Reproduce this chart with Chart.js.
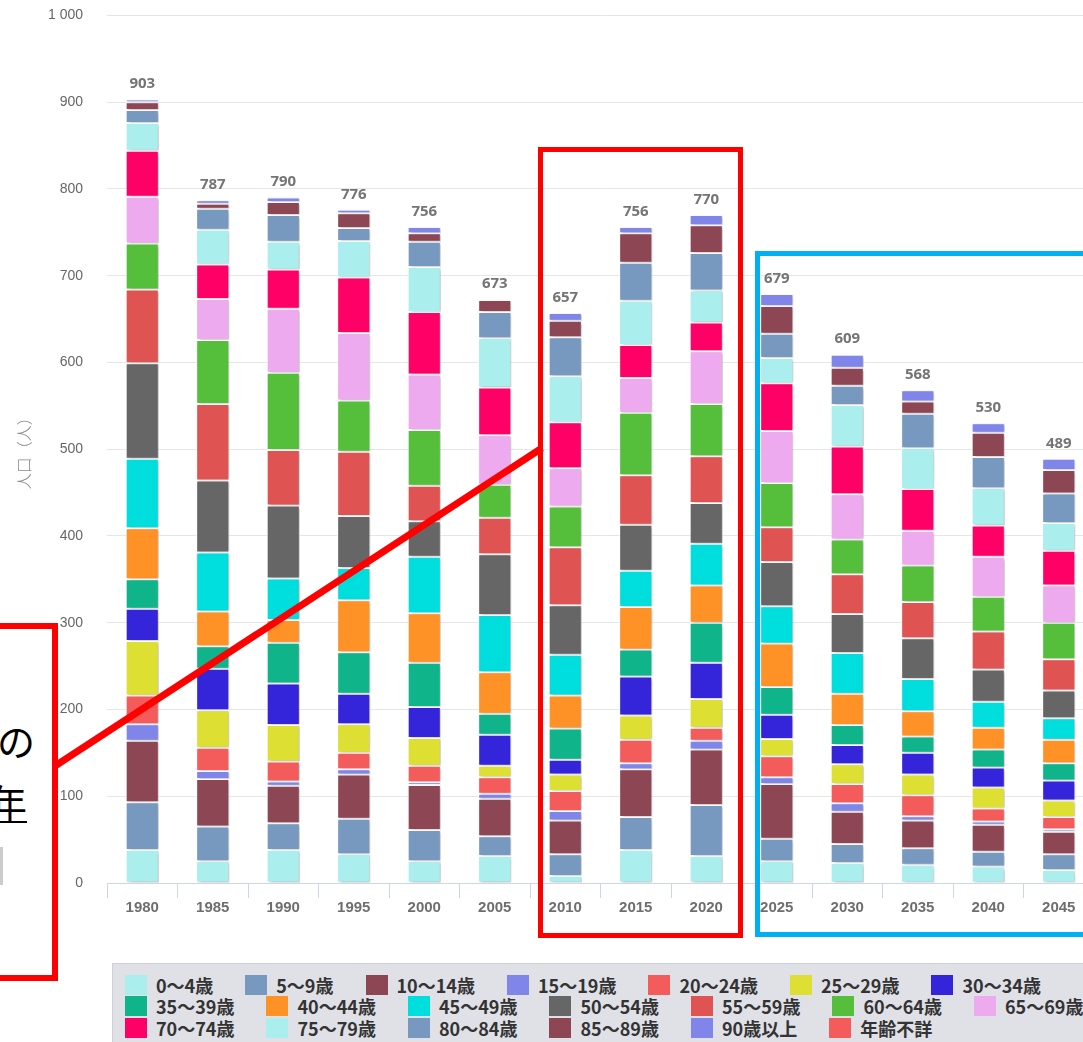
<!DOCTYPE html>
<html lang="ja">
<head>
<meta charset="utf-8">
<title>年齢別人口の推移</title>
<script src="https://cdn.jsdelivr.net/npm/chart.js@4.4.1/dist/chart.umd.min.js"></script>
<style>
  html, body { margin: 0; padding: 0; background: #fff; }
  body { width: 1083px; height: 1042px; overflow: hidden; position: relative; font-family: "Noto Sans", "Noto Sans CJK JP", sans-serif; }
  #wrap { position: absolute; left: 0; top: -17px; width: 1094px; height: 967px; }
  #legend { position: absolute; left: 112px; top: 963px; width: 1150px; height: 90px; background: #e0e1e7; border: 1px solid #cdd0d8; box-sizing: border-box; padding: 10px 0 0 12px; }
  .row { display: flex; height: 21.5px; }
  .item { display: flex; align-items: center; margin-right: 32px; }
  .sw { width: 22px; height: 20px; margin-right: 9px; flex: none; }
  .lbl { font-weight: bold; font-size: 18px; font-family: "Noto Sans CJK JP", sans-serif; color: #333; line-height: 20px; white-space: nowrap; }
  .box { position: absolute; box-sizing: border-box; }
  .note { position: absolute; font-family: "Noto Sans CJK JP", sans-serif; font-size: 38px; color: #000; line-height: 40px; }
</style>
</head>
<body>
<div id="wrap"><canvas id="chart" width="1094" height="967"></canvas></div>
<div id="legend"></div>

<!-- 注釈 -->
<div class="box" style="left:538px;top:147px;width:205px;height:791px;border:5px solid #ff0000;"></div>
<div class="box" style="left:755px;top:251px;width:400px;height:686px;border:5px solid #00b0f0;"></div>
<div class="box" style="left:-10px;top:623px;width:68px;height:358px;border:6px solid #ff0000;background:#fff;"></div>
<div class="note" style="left:-3px;top:720px;">の</div>
<div class="note" style="left:-11px;top:781px;border-bottom:2px solid #000;">年</div>
<div class="box" style="left:0;top:847px;width:3px;height:38px;background:#cccccc;"></div>
<svg style="position:absolute;left:0;top:0" width="1083" height="1042">
  <line x1="55" y1="766" x2="542" y2="448" stroke="#ff0000" stroke-width="7"/>
</svg>

<script>
// 年
const years = ["1980", "1985", "1990", "1995", "2000", "2005", "2010", "2015", "2020", "2025", "2030", "2035", "2040", "2045"];

// 年齢階級
const ageGroups = ["0～4歳", "5～9歳", "10～14歳", "15～19歳", "20～24歳", "25～29歳", "30～34歳",
  "35～39歳", "40～44歳", "45～49歳", "50～54歳", "55～59歳", "60～64歳", "65～69歳",
  "70～74歳", "75～79歳", "80～84歳", "85～89歳", "90歳以上", "年齢不詳"];

// 人口（人）
const age0_4    = [38, 25, 38, 33, 25, 31, 8, 38, 31, 25, 23, 21, 19, 15];
const age5_9    = [55, 40, 31, 41, 36, 23, 25, 38, 59, 26, 22, 19, 17, 18];
const age10_14  = [71, 55, 43, 51, 52, 43, 39, 55, 64, 63, 37, 32, 31, 26];
const age15_19  = [19, 9, 5, 6, 3, 6, 11, 7, 10, 8, 10, 5, 4, 3];
const age20_24  = [33, 27, 23, 19, 19, 19, 23, 27, 15, 24, 22, 24, 15, 14];
const age25_29  = [63, 43, 42, 33, 32, 13, 19, 28, 33, 20, 23, 24, 24, 19];
const age30_34  = [37, 48, 48, 35, 36, 36, 17, 45, 42, 28, 22, 25, 23, 23];
const age35_39  = [34, 26, 47, 48, 51, 24, 36, 31, 46, 32, 23, 19, 21, 20];
const age40_44  = [59, 40, 26, 60, 57, 48, 38, 49, 43, 50, 36, 29, 25, 27];
const age45_49  = [80, 68, 48, 37, 65, 66, 47, 42, 48, 43, 47, 37, 30, 25];
const age50_54  = [110, 83, 84, 60, 41, 70, 57, 53, 47, 51, 45, 47, 37, 32];
const age55_59  = [85, 88, 64, 74, 41, 42, 67, 57, 54, 40, 46, 42, 44, 36];
const age60_64  = [53, 74, 89, 59, 64, 38, 47, 72, 60, 51, 40, 42, 40, 42];
const age65_69  = [54, 47, 74, 78, 64, 57, 44, 40, 61, 60, 52, 40, 46, 43];
const age70_74  = [53, 40, 45, 64, 72, 55, 53, 38, 33, 55, 55, 48, 36, 40];
const age75_79  = [32, 40, 32, 42, 52, 57, 53, 51, 37, 29, 48, 47, 43, 32];
const age80_84  = [15, 24, 31, 15, 29, 30, 45, 44, 43, 28, 22, 40, 36, 34];
const age85_89  = [9, 6, 15, 17, 10, 14, 19, 34, 32, 32, 21, 14, 28, 27];
const age90plus = [3, 4, 5, 4, 7, 1, 9, 7, 12, 14, 15, 13, 11, 13];
const ageUnknown = [0, 0, 0, 0, 0, 0, 0, 0, 0, 0, 0, 0, 0, 0];

const seriesValues = [age0_4, age5_9, age10_14, age15_19, age20_24, age25_29, age30_34,
  age35_39, age40_44, age45_49, age50_54, age55_59, age60_64, age65_69,
  age70_74, age75_79, age80_84, age85_89, age90plus, ageUnknown];

const seriesColors = ["#aaeeee", "#7798bf", "#8d4654", "#8085e9", "#f45b5b", "#dddf33", "#3525da",
  "#0fb48b", "#ff9226", "#00dddd", "#666666", "#df5353", "#55bf3b", "#eeaaee",
  "#ff0066", "#aaeeee", "#7798bf", "#8d4654", "#8085e9", "#f45b5b"];

// 棒の影
const shadowPlugin = {
  id: "barShadow",
  beforeDatasetsDraw(chart) {
    const ctx = chart.ctx;
    ctx.save();
    ctx.shadowColor = "rgba(0,0,0,0.28)";
    ctx.shadowOffsetX = 2;
    ctx.shadowOffsetY = 1;
    ctx.shadowBlur = 3;
  },
  afterDatasetsDraw(chart) {
    chart.ctx.restore();
  }
};

// 合計ラベル
const totalPlugin = {
  id: "totals",
  afterDraw(chart) {
    const ctx = chart.ctx;
    const xs = chart.scales.x, ys = chart.scales.y;
    ctx.save();
    ctx.font = 'bold 15px "Noto Sans", sans-serif';
    ctx.fillStyle = "#757575";
    ctx.textAlign = "center";
    ctx.textBaseline = "bottom";
    years.forEach((y, i) => {
      const total = seriesValues.reduce((s, arr) => s + arr[i], 0);
      ctx.fillText(String(total), xs.getPixelForValue(i), ys.getPixelForValue(total) - 8);
    });
    ctx.restore();
  }
};

const ctx = document.getElementById("chart").getContext("2d");
const chart = new Chart(ctx, {
  type: "bar",
  data: {
    labels: years,
    datasets: ageGroups.map((name, i) => ({
      label: name,
      data: seriesValues[i],
      backgroundColor: seriesColors[i],
      borderColor: "#ffffff",
      borderWidth: 1,
      borderSkipped: false,
      barPercentage: 0.47,
      categoryPercentage: 1
    }))
  },
  options: {
    responsive: false,
    animation: false,
    layout: { padding: { top: 13, left: 0, right: 0, bottom: 0 } },
    plugins: {
      legend: { display: false },
      tooltip: { enabled: false }
    },
    scales: {
      x: {
        stacked: true,
        grid: { display: true, drawOnChartArea: false, color: "#ccd6eb", tickLength: 15 },
        border: { color: "#ccd6eb" },
        ticks: { color: "#6e6e6e", font: { size: 15, weight: "bold" }, padding: 1 },
        afterFit: (s) => { s.height = 67; }
      },
      y: {
        stacked: true,
        min: 0,
        max: 1000,
        grid: { color: "#e6e6e6", drawTicks: false },
        border: { display: false },
        ticks: {
          stepSize: 100,
          color: "#666",
          font: { size: 14 },
          padding: 24,
          callback: (v) => v.toLocaleString("en-US").replace(",", " ")
        },
        title: {
          display: true,
          text: "人口（人）",
          color: "#888",
          font: { size: 16, family: '"Noto Sans CJK JP", sans-serif', weight: "300" },
          padding: { top: 14, bottom: 0 }
        },
        afterFit: (s) => { s.width = 107; }
      }
    }
  },
  plugins: [shadowPlugin, totalPlugin]
});

// 凡例
const legend = document.getElementById("legend");
for (let r = 0; r < ageGroups.length; r += 7) {
  const row = document.createElement("div");
  row.className = "row";
  ageGroups.slice(r, r + 7).forEach((name, k) => {
    const item = document.createElement("div");
    item.className = "item";
    const sw = document.createElement("span");
    sw.className = "sw";
    sw.style.background = seriesColors[r + k];
    const lbl = document.createElement("span");
    lbl.className = "lbl";
    lbl.textContent = name;
    item.appendChild(sw);
    item.appendChild(lbl);
    row.appendChild(item);
  });
  legend.appendChild(row);
}
</script>
</body>
</html>
